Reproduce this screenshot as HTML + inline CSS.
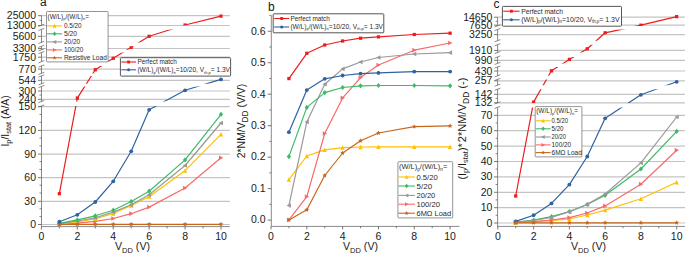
<!DOCTYPE html>
<html><head><meta charset="utf-8"><style>
html,body{margin:0;padding:0;background:#fff;}
body{width:685px;height:254px;overflow:hidden;}
svg{display:block;font-family:"Liberation Sans", sans-serif;}
</style></head><body>
<svg width="685" height="254" viewBox="0 0 685 254">
<rect width="685" height="254" fill="#fff"/>
<line x1="41.50" y1="15.70" x2="229.80" y2="15.70" stroke="#c4c4c4" stroke-width="1.2" />
<line x1="41.50" y1="25.50" x2="229.80" y2="25.50" stroke="#c4c4c4" stroke-width="1.2" />
<line x1="41.50" y1="36.30" x2="229.80" y2="36.30" stroke="#c4c4c4" stroke-width="1.2" />
<line x1="41.50" y1="48.50" x2="229.80" y2="48.50" stroke="#c4c4c4" stroke-width="1.2" />
<line x1="41.50" y1="57.20" x2="229.80" y2="57.20" stroke="#c4c4c4" stroke-width="1.2" />
<line x1="41.50" y1="69.10" x2="229.80" y2="69.10" stroke="#c4c4c4" stroke-width="1.2" />
<line x1="41.50" y1="80.30" x2="229.80" y2="80.30" stroke="#c4c4c4" stroke-width="1.2" />
<line x1="41.50" y1="91.00" x2="229.80" y2="91.00" stroke="#c4c4c4" stroke-width="1.2" />
<line x1="41.50" y1="99.30" x2="229.80" y2="99.30" stroke="#c4c4c4" stroke-width="1.2" />
<line x1="41.50" y1="106.60" x2="229.80" y2="106.60" stroke="#c4c4c4" stroke-width="1.2" />
<line x1="41.50" y1="130.40" x2="229.80" y2="130.40" stroke="#c4c4c4" stroke-width="1.2" />
<line x1="41.50" y1="154.10" x2="229.80" y2="154.10" stroke="#c4c4c4" stroke-width="1.2" />
<line x1="41.50" y1="177.70" x2="229.80" y2="177.70" stroke="#c4c4c4" stroke-width="1.2" />
<line x1="41.50" y1="201.30" x2="229.80" y2="201.30" stroke="#c4c4c4" stroke-width="1.2" />
<line x1="41.50" y1="224.50" x2="229.80" y2="224.50" stroke="#c4c4c4" stroke-width="1.2" />
<line x1="41.50" y1="15.40" x2="41.50" y2="25.30" stroke="#8a8a8a" stroke-width="1" />
<line x1="41.50" y1="29.50" x2="41.50" y2="42.40" stroke="#8a8a8a" stroke-width="1" />
<line x1="41.50" y1="46.30" x2="41.50" y2="49.80" stroke="#8a8a8a" stroke-width="1" />
<line x1="41.50" y1="52.60" x2="41.50" y2="61.70" stroke="#8a8a8a" stroke-width="1" />
<line x1="41.50" y1="66.00" x2="41.50" y2="73.40" stroke="#8a8a8a" stroke-width="1" />
<line x1="41.50" y1="76.00" x2="41.50" y2="83.80" stroke="#8a8a8a" stroke-width="1" />
<line x1="41.50" y1="86.50" x2="41.50" y2="101.50" stroke="#8a8a8a" stroke-width="1" />
<line x1="41.50" y1="106.00" x2="41.50" y2="227.00" stroke="#8a8a8a" stroke-width="1" />
<line x1="38.50" y1="26.40" x2="44.30" y2="24.20" stroke="#666" stroke-width="0.75" />
<line x1="38.50" y1="30.60" x2="44.30" y2="28.40" stroke="#666" stroke-width="0.75" />
<line x1="38.50" y1="43.50" x2="44.30" y2="41.30" stroke="#666" stroke-width="0.75" />
<line x1="38.50" y1="47.40" x2="44.30" y2="45.20" stroke="#666" stroke-width="0.75" />
<line x1="38.50" y1="50.90" x2="44.30" y2="48.70" stroke="#666" stroke-width="0.75" />
<line x1="38.50" y1="53.70" x2="44.30" y2="51.50" stroke="#666" stroke-width="0.75" />
<line x1="38.50" y1="62.80" x2="44.30" y2="60.60" stroke="#666" stroke-width="0.75" />
<line x1="38.50" y1="67.10" x2="44.30" y2="64.90" stroke="#666" stroke-width="0.75" />
<line x1="38.50" y1="74.50" x2="44.30" y2="72.30" stroke="#666" stroke-width="0.75" />
<line x1="38.50" y1="77.10" x2="44.30" y2="74.90" stroke="#666" stroke-width="0.75" />
<line x1="38.50" y1="84.90" x2="44.30" y2="82.70" stroke="#666" stroke-width="0.75" />
<line x1="38.50" y1="87.60" x2="44.30" y2="85.40" stroke="#666" stroke-width="0.75" />
<line x1="38.50" y1="102.60" x2="44.30" y2="100.40" stroke="#666" stroke-width="0.75" />
<line x1="38.50" y1="107.10" x2="44.30" y2="104.90" stroke="#666" stroke-width="0.75" />
<line x1="41.50" y1="226.60" x2="229.80" y2="226.60" stroke="#8a8a8a" stroke-width="1" />
<line x1="38.00" y1="15.70" x2="41.50" y2="15.70" stroke="#666" stroke-width="0.9" />
<text x="36.00" y="19.20" font-size="10.5" text-anchor="end" fill="#1a1a1a" >25000</text>
<line x1="38.00" y1="25.50" x2="41.50" y2="25.50" stroke="#666" stroke-width="0.9" />
<text x="36.00" y="29.00" font-size="10.5" text-anchor="end" fill="#1a1a1a" >13000</text>
<line x1="38.00" y1="36.30" x2="41.50" y2="36.30" stroke="#666" stroke-width="0.9" />
<text x="36.00" y="39.80" font-size="10.5" text-anchor="end" fill="#1a1a1a" >5600</text>
<line x1="38.00" y1="48.50" x2="41.50" y2="48.50" stroke="#666" stroke-width="0.9" />
<text x="36.00" y="52.00" font-size="10.5" text-anchor="end" fill="#1a1a1a" >3300</text>
<line x1="38.00" y1="57.20" x2="41.50" y2="57.20" stroke="#666" stroke-width="0.9" />
<text x="36.00" y="60.70" font-size="10.5" text-anchor="end" fill="#1a1a1a" >1750</text>
<line x1="38.00" y1="69.10" x2="41.50" y2="69.10" stroke="#666" stroke-width="0.9" />
<text x="36.00" y="72.60" font-size="10.5" text-anchor="end" fill="#1a1a1a" >770</text>
<line x1="38.00" y1="80.30" x2="41.50" y2="80.30" stroke="#666" stroke-width="0.9" />
<text x="36.00" y="83.80" font-size="10.5" text-anchor="end" fill="#1a1a1a" >544</text>
<line x1="38.00" y1="91.00" x2="41.50" y2="91.00" stroke="#666" stroke-width="0.9" />
<text x="36.00" y="94.50" font-size="10.5" text-anchor="end" fill="#1a1a1a" >300</text>
<line x1="38.00" y1="99.30" x2="41.50" y2="99.30" stroke="#666" stroke-width="0.9" />
<text x="36.00" y="102.80" font-size="10.5" text-anchor="end" fill="#1a1a1a" >240</text>
<line x1="38.00" y1="106.60" x2="41.50" y2="106.60" stroke="#666" stroke-width="0.9" />
<text x="36.00" y="110.10" font-size="10.5" text-anchor="end" fill="#1a1a1a" >150</text>
<line x1="38.00" y1="130.40" x2="41.50" y2="130.40" stroke="#666" stroke-width="0.9" />
<text x="36.00" y="133.90" font-size="10.5" text-anchor="end" fill="#1a1a1a" >120</text>
<line x1="38.00" y1="154.10" x2="41.50" y2="154.10" stroke="#666" stroke-width="0.9" />
<text x="36.00" y="157.60" font-size="10.5" text-anchor="end" fill="#1a1a1a" >90</text>
<line x1="38.00" y1="177.70" x2="41.50" y2="177.70" stroke="#666" stroke-width="0.9" />
<text x="36.00" y="181.20" font-size="10.5" text-anchor="end" fill="#1a1a1a" >60</text>
<line x1="38.00" y1="201.30" x2="41.50" y2="201.30" stroke="#666" stroke-width="0.9" />
<text x="36.00" y="204.80" font-size="10.5" text-anchor="end" fill="#1a1a1a" >30</text>
<line x1="38.00" y1="224.50" x2="41.50" y2="224.50" stroke="#666" stroke-width="0.9" />
<text x="36.00" y="228.00" font-size="10.5" text-anchor="end" fill="#1a1a1a" >0</text>
<line x1="39.50" y1="216.64" x2="41.50" y2="216.64" stroke="#666" stroke-width="0.8" />
<line x1="39.50" y1="208.78" x2="41.50" y2="208.78" stroke="#666" stroke-width="0.8" />
<line x1="39.50" y1="193.06" x2="41.50" y2="193.06" stroke="#666" stroke-width="0.8" />
<line x1="39.50" y1="185.20" x2="41.50" y2="185.20" stroke="#666" stroke-width="0.8" />
<line x1="39.50" y1="169.48" x2="41.50" y2="169.48" stroke="#666" stroke-width="0.8" />
<line x1="39.50" y1="161.62" x2="41.50" y2="161.62" stroke="#666" stroke-width="0.8" />
<line x1="39.50" y1="145.90" x2="41.50" y2="145.90" stroke="#666" stroke-width="0.8" />
<line x1="39.50" y1="138.04" x2="41.50" y2="138.04" stroke="#666" stroke-width="0.8" />
<line x1="39.50" y1="122.32" x2="41.50" y2="122.32" stroke="#666" stroke-width="0.8" />
<line x1="39.50" y1="114.46" x2="41.50" y2="114.46" stroke="#666" stroke-width="0.8" />
<line x1="39.50" y1="20.40" x2="41.50" y2="20.40" stroke="#666" stroke-width="0.8" />
<line x1="39.50" y1="95.00" x2="41.50" y2="95.00" stroke="#666" stroke-width="0.8" />
<line x1="41.40" y1="226.60" x2="41.40" y2="229.60" stroke="#666" stroke-width="0.9" />
<line x1="59.36" y1="226.60" x2="59.36" y2="228.40" stroke="#666" stroke-width="0.9" />
<line x1="77.32" y1="226.60" x2="77.32" y2="229.60" stroke="#666" stroke-width="0.9" />
<line x1="95.28" y1="226.60" x2="95.28" y2="228.40" stroke="#666" stroke-width="0.9" />
<line x1="113.24" y1="226.60" x2="113.24" y2="229.60" stroke="#666" stroke-width="0.9" />
<line x1="131.20" y1="226.60" x2="131.20" y2="228.40" stroke="#666" stroke-width="0.9" />
<line x1="149.16" y1="226.60" x2="149.16" y2="229.60" stroke="#666" stroke-width="0.9" />
<line x1="167.12" y1="226.60" x2="167.12" y2="228.40" stroke="#666" stroke-width="0.9" />
<line x1="185.08" y1="226.60" x2="185.08" y2="229.60" stroke="#666" stroke-width="0.9" />
<line x1="203.04" y1="226.60" x2="203.04" y2="228.40" stroke="#666" stroke-width="0.9" />
<line x1="221.00" y1="226.60" x2="221.00" y2="229.60" stroke="#666" stroke-width="0.9" />
<text x="41.40" y="239.80" font-size="10.5" text-anchor="middle" fill="#1a1a1a" >0</text>
<text x="77.32" y="239.80" font-size="10.5" text-anchor="middle" fill="#1a1a1a" >2</text>
<text x="113.24" y="239.80" font-size="10.5" text-anchor="middle" fill="#1a1a1a" >4</text>
<text x="149.16" y="239.80" font-size="10.5" text-anchor="middle" fill="#1a1a1a" >6</text>
<text x="185.08" y="239.80" font-size="10.5" text-anchor="middle" fill="#1a1a1a" >8</text>
<text x="221.00" y="239.80" font-size="10.5" text-anchor="middle" fill="#1a1a1a" >10</text>
<text x="115" y="250.3" font-size="10.6" fill="#1a1a1a">V<tspan font-size="7.5" dy="2.6">DD</tspan><tspan dy="-2.6"> (V)</tspan></text>
<text transform="translate(8.8,146.6) rotate(-90)" font-size="10.4" fill="#1a1a1a">I<tspan font-size="7.4" dy="2.3">p</tspan><tspan dy="-2.3">/I</tspan><tspan font-size="7.4" dy="2.3">stat</tspan><tspan dy="-2.3"> (A/A)</tspan></text>
<text x="39.90" y="6.00" font-size="12" text-anchor="start" fill="#1a1a1a" >a</text>
<path d="M59.36 224.30L77.32 223.20M77.32 223.20L95.28 221.30M95.28 221.30L113.24 218.50M113.24 218.50L131.20 213.70M131.20 213.70L149.16 207.10M149.16 207.10L185.08 188.00M185.08 188.00L221.00 157.80" stroke="#f8696b" stroke-width="1.2" fill="none" stroke-linejoin="round"/>
<polygon points="61.70,224.30 57.37,221.96 57.37,226.64" fill="#f8696b"/>
<polygon points="79.66,223.20 75.33,220.86 75.33,225.54" fill="#f8696b"/>
<polygon points="97.62,221.30 93.29,218.96 93.29,223.64" fill="#f8696b"/>
<polygon points="115.58,218.50 111.25,216.16 111.25,220.84" fill="#f8696b"/>
<polygon points="133.54,213.70 129.21,211.36 129.21,216.04" fill="#f8696b"/>
<polygon points="151.50,207.10 147.17,204.76 147.17,209.44" fill="#f8696b"/>
<polygon points="187.42,188.00 183.09,185.66 183.09,190.34" fill="#f8696b"/>
<polygon points="223.34,157.80 219.01,155.46 219.01,160.14" fill="#f8696b"/>
<path d="M59.36 223.90L77.32 222.00M77.32 222.00L95.28 218.80M95.28 218.80L113.24 213.50M113.24 213.50L131.20 205.50M131.20 205.50L149.16 196.70M149.16 196.70L185.08 170.60M185.08 170.60L221.00 134.30" stroke="#ffc000" stroke-width="1.2" fill="none" stroke-linejoin="round"/>
<polygon points="59.36,221.50 61.54,226.05 57.18,226.05" fill="#ffc000"/>
<polygon points="77.32,219.59 79.50,224.15 75.14,224.15" fill="#ffc000"/>
<polygon points="95.28,216.40 97.46,220.95 93.10,220.95" fill="#ffc000"/>
<polygon points="113.24,211.09 115.42,215.65 111.06,215.65" fill="#ffc000"/>
<polygon points="131.20,203.09 133.38,207.65 129.02,207.65" fill="#ffc000"/>
<polygon points="149.16,194.29 151.34,198.84 146.98,198.84" fill="#ffc000"/>
<polygon points="185.08,168.19 187.26,172.75 182.90,172.75" fill="#ffc000"/>
<polygon points="221.00,131.90 223.18,136.45 218.82,136.45" fill="#ffc000"/>
<path d="M59.36 223.60L77.32 221.00M77.32 221.00L95.28 217.80M95.28 217.80L113.24 212.10M113.24 212.10L131.20 204.80M131.20 204.80L149.16 194.80M149.16 194.80L185.08 165.50M185.08 165.50L221.00 123.00" stroke="#999999" stroke-width="1.2" fill="none" stroke-linejoin="round"/>
<polygon points="57.02,223.60 61.35,221.26 61.35,225.94" fill="#999999"/>
<polygon points="74.98,221.00 79.31,218.66 79.31,223.34" fill="#999999"/>
<polygon points="92.94,217.80 97.27,215.46 97.27,220.14" fill="#999999"/>
<polygon points="110.90,212.10 115.23,209.76 115.23,214.44" fill="#999999"/>
<polygon points="128.86,204.80 133.19,202.46 133.19,207.14" fill="#999999"/>
<polygon points="146.82,194.80 151.15,192.46 151.15,197.14" fill="#999999"/>
<polygon points="182.74,165.50 187.07,163.16 187.07,167.84" fill="#999999"/>
<polygon points="218.66,123.00 222.99,120.66 222.99,125.34" fill="#999999"/>
<path d="M59.36 223.30L77.32 219.90M77.32 219.90L95.28 215.80M95.28 215.80L113.24 210.20M113.24 210.20L131.20 201.50M131.20 201.50L149.16 191.20M149.16 191.20L185.08 159.90M185.08 159.90L221.00 114.30" stroke="#3dba68" stroke-width="1.2" fill="none" stroke-linejoin="round"/>
<polygon points="59.36,220.70 61.51,223.30 59.36,225.90 57.21,223.30" fill="#3dba68"/>
<polygon points="77.32,217.30 79.46,219.90 77.32,222.50 75.17,219.90" fill="#3dba68"/>
<polygon points="95.28,213.20 97.42,215.80 95.28,218.40 93.14,215.80" fill="#3dba68"/>
<polygon points="113.24,207.60 115.39,210.20 113.24,212.80 111.10,210.20" fill="#3dba68"/>
<polygon points="131.20,198.90 133.35,201.50 131.20,204.10 129.06,201.50" fill="#3dba68"/>
<polygon points="149.16,188.60 151.31,191.20 149.16,193.80 147.01,191.20" fill="#3dba68"/>
<polygon points="185.08,157.30 187.23,159.90 185.08,162.50 182.94,159.90" fill="#3dba68"/>
<polygon points="221.00,111.70 223.15,114.30 221.00,116.90 218.86,114.30" fill="#3dba68"/>
<path d="M59.36 224.30L77.32 224.30M77.32 224.30L95.28 224.30M95.28 224.30L113.24 224.30M113.24 224.30L131.20 224.30M131.20 224.30L149.16 224.30M149.16 224.30L185.08 224.30M185.08 224.30L221.00 224.30" stroke="#c8661c" stroke-width="1.2" fill="none" stroke-linejoin="round"/>
<polygon points="59.36,221.83 60.06,223.34 61.71,223.54 60.49,224.67 60.81,226.30 59.36,225.49 57.91,226.30 58.23,224.67 57.01,223.54 58.66,223.34" fill="#c8661c"/>
<polygon points="77.32,221.83 78.02,223.34 79.67,223.54 78.45,224.67 78.77,226.30 77.32,225.49 75.87,226.30 76.19,224.67 74.97,223.54 76.62,223.34" fill="#c8661c"/>
<polygon points="95.28,221.83 95.98,223.34 97.63,223.54 96.41,224.67 96.73,226.30 95.28,225.49 93.83,226.30 94.15,224.67 92.93,223.54 94.58,223.34" fill="#c8661c"/>
<polygon points="113.24,221.83 113.94,223.34 115.59,223.54 114.37,224.67 114.69,226.30 113.24,225.49 111.79,226.30 112.11,224.67 110.89,223.54 112.54,223.34" fill="#c8661c"/>
<polygon points="131.20,221.83 131.90,223.34 133.55,223.54 132.33,224.67 132.65,226.30 131.20,225.49 129.75,226.30 130.07,224.67 128.85,223.54 130.50,223.34" fill="#c8661c"/>
<polygon points="149.16,221.83 149.86,223.34 151.51,223.54 150.29,224.67 150.61,226.30 149.16,225.49 147.71,226.30 148.03,224.67 146.81,223.54 148.46,223.34" fill="#c8661c"/>
<polygon points="185.08,221.83 185.78,223.34 187.43,223.54 186.21,224.67 186.53,226.30 185.08,225.49 183.63,226.30 183.95,224.67 182.73,223.54 184.38,223.34" fill="#c8661c"/>
<polygon points="221.00,221.83 221.70,223.34 223.35,223.54 222.13,224.67 222.45,226.30 221.00,225.49 219.55,226.30 219.87,224.67 218.65,223.54 220.30,223.34" fill="#c8661c"/>
<clipPath id="ca"><rect x="42" y="0.00" width="190" height="25.30"/><rect x="42" y="29.50" width="190" height="12.90"/><rect x="42" y="46.30" width="190" height="3.50"/><rect x="42" y="52.60" width="190" height="9.10"/><rect x="42" y="66.00" width="190" height="7.40"/><rect x="42" y="76.00" width="190" height="7.80"/><rect x="42" y="86.50" width="190" height="15.00"/><rect x="42" y="106.00" width="190" height="148.00"/></clipPath>
<g clip-path="url(#ca)">
<path d="M59.36 221.70L77.32 214.80M77.32 214.80L95.28 202.00M95.28 202.00L113.24 181.30M113.24 181.30L131.20 151.30M131.20 151.30L149.16 109.80M149.16 109.80L185.08 90.30M185.08 90.30L221.00 79.40" stroke="#2f62a0" stroke-width="1.2" fill="none" stroke-linejoin="round"/>
<circle cx="59.36" cy="221.70" r="1.92" fill="#2f62a0"/>
<circle cx="77.32" cy="214.80" r="1.92" fill="#2f62a0"/>
<circle cx="95.28" cy="202.00" r="1.92" fill="#2f62a0"/>
<circle cx="113.24" cy="181.30" r="1.92" fill="#2f62a0"/>
<circle cx="131.20" cy="151.30" r="1.92" fill="#2f62a0"/>
<circle cx="149.16" cy="109.80" r="1.92" fill="#2f62a0"/>
<circle cx="185.08" cy="90.30" r="1.92" fill="#2f62a0"/>
<circle cx="221.00" cy="79.40" r="1.92" fill="#2f62a0"/>
<path d="M59.36 193.70L77.32 98.10M77.32 98.10L95.28 69.80M95.28 69.80L113.24 58.30M113.24 58.30L131.20 47.30M131.20 47.30L149.16 36.30M149.16 36.30L185.08 25.00M185.08 25.00L221.00 16.10" stroke="#ee1c1c" stroke-width="1.2" fill="none" stroke-linejoin="round"/>
<rect x="57.73" y="192.07" width="3.25" height="3.25" fill="#ee1c1c"/>
<rect x="75.69" y="96.47" width="3.25" height="3.25" fill="#ee1c1c"/>
<rect x="93.66" y="68.17" width="3.25" height="3.25" fill="#ee1c1c"/>
<rect x="111.62" y="56.67" width="3.25" height="3.25" fill="#ee1c1c"/>
<rect x="129.58" y="45.67" width="3.25" height="3.25" fill="#ee1c1c"/>
<rect x="147.53" y="34.67" width="3.25" height="3.25" fill="#ee1c1c"/>
<rect x="183.46" y="23.38" width="3.25" height="3.25" fill="#ee1c1c"/>
<rect x="219.38" y="14.48" width="3.25" height="3.25" fill="#ee1c1c"/>
</g>
<rect x="46.50" y="11.50" width="61.60" height="50.40" fill="#fff" stroke="#7a7a7a" stroke-width="0.8" rx="0.8"/>
<text x="47.50" y="18.50" font-size="6.4" fill="#2a2a2a" textLength="41.40" lengthAdjust="spacingAndGlyphs">(W/L)<tspan font-size="3.97" dy="1.4">p</tspan><tspan dy="-1.4">/(W/L)</tspan><tspan font-size="3.97" dy="1.4">n</tspan><tspan dy="-1.4">=</tspan></text>
<line x1="47.10" y1="25.90" x2="62.00" y2="25.90" stroke="#ffc000" stroke-width="1.1" />
<polygon points="54.55,23.86 56.40,27.71 52.70,27.71" fill="#ffc000"/>
<text x="63.90" y="28.20" font-size="6.4" fill="#2a2a2a" textLength="17.80" lengthAdjust="spacingAndGlyphs">0.5/20</text>
<line x1="47.10" y1="33.80" x2="62.00" y2="33.80" stroke="#3dba68" stroke-width="1.1" />
<polygon points="54.55,31.60 56.36,33.80 54.55,36.00 52.73,33.80" fill="#3dba68"/>
<text x="63.90" y="36.10" font-size="6.4" fill="#2a2a2a" textLength="13.20" lengthAdjust="spacingAndGlyphs">5/20</text>
<line x1="47.10" y1="41.90" x2="62.00" y2="41.90" stroke="#999999" stroke-width="1.1" />
<polygon points="52.57,41.90 56.23,39.92 56.23,43.88" fill="#999999"/>
<text x="63.90" y="44.20" font-size="6.4" fill="#2a2a2a" textLength="16.30" lengthAdjust="spacingAndGlyphs">20/20</text>
<line x1="47.10" y1="49.90" x2="62.00" y2="49.90" stroke="#f8696b" stroke-width="1.1" />
<polygon points="56.53,49.90 52.87,47.92 52.87,51.88" fill="#f8696b"/>
<text x="63.90" y="52.20" font-size="6.4" fill="#2a2a2a" textLength="19.50" lengthAdjust="spacingAndGlyphs">100/20</text>
<line x1="47.10" y1="57.80" x2="62.00" y2="57.80" stroke="#c8661c" stroke-width="1.1" />
<polygon points="54.55,55.71 55.14,56.99 56.54,57.15 55.50,58.11 55.78,59.49 54.55,58.80 53.32,59.49 53.60,58.11 52.56,57.15 53.96,56.99" fill="#c8661c"/>
<text x="63.90" y="60.10" font-size="6.4" fill="#2a2a2a" textLength="42.90" lengthAdjust="spacingAndGlyphs">Resistive Load</text>
<rect x="120.40" y="57.70" width="110.20" height="18.40" fill="#fff" stroke="#555" stroke-width="1.0" rx="0.8"/>
<line x1="121.30" y1="62.00" x2="136.00" y2="62.00" stroke="#ee1c1c" stroke-width="1.1" />
<rect x="127.21" y="60.56" width="2.88" height="2.88" fill="#ee1c1c"/>
<line x1="121.30" y1="69.80" x2="136.00" y2="69.80" stroke="#2f62a0" stroke-width="1.1" />
<circle cx="128.65" cy="69.80" r="1.55" fill="#2f62a0"/>
<text x="137.40" y="64.10" font-size="6.9" fill="#2a2a2a" textLength="39.50" lengthAdjust="spacingAndGlyphs">Perfect match</text>
<text x="137.40" y="72.20" font-size="6.9" fill="#2a2a2a" textLength="92.60" lengthAdjust="spacingAndGlyphs">(W/L)<tspan font-size="4.28" dy="1.4">p</tspan><tspan dy="-1.4">/(W/L)</tspan><tspan font-size="4.28" dy="1.4">n</tspan><tspan dy="-1.4">=10/20, V</tspan><tspan font-size="4.28" dy="1.4">th,p</tspan><tspan dy="-1.4">= 1.3V</tspan></text>
<line x1="271.30" y1="15.40" x2="271.30" y2="226.90" stroke="#8a8a8a" stroke-width="1" />
<line x1="271.30" y1="226.40" x2="459.50" y2="226.40" stroke="#8a8a8a" stroke-width="1" />
<line x1="269.30" y1="15.40" x2="271.30" y2="15.40" stroke="#666" stroke-width="0.8" />
<line x1="267.70" y1="220.10" x2="271.30" y2="220.10" stroke="#666" stroke-width="0.9" />
<text x="265.50" y="223.40" font-size="10.5" text-anchor="end" fill="#1a1a1a" >0.0</text>
<line x1="267.70" y1="188.63" x2="271.30" y2="188.63" stroke="#666" stroke-width="0.9" />
<text x="265.50" y="191.93" font-size="10.5" text-anchor="end" fill="#1a1a1a" >0.1</text>
<line x1="267.70" y1="157.16" x2="271.30" y2="157.16" stroke="#666" stroke-width="0.9" />
<text x="265.50" y="160.46" font-size="10.5" text-anchor="end" fill="#1a1a1a" >0.2</text>
<line x1="267.70" y1="125.69" x2="271.30" y2="125.69" stroke="#666" stroke-width="0.9" />
<text x="265.50" y="128.99" font-size="10.5" text-anchor="end" fill="#1a1a1a" >0.3</text>
<line x1="267.70" y1="94.22" x2="271.30" y2="94.22" stroke="#666" stroke-width="0.9" />
<text x="265.50" y="97.52" font-size="10.5" text-anchor="end" fill="#1a1a1a" >0.4</text>
<line x1="267.70" y1="62.75" x2="271.30" y2="62.75" stroke="#666" stroke-width="0.9" />
<text x="265.50" y="66.05" font-size="10.5" text-anchor="end" fill="#1a1a1a" >0.5</text>
<line x1="267.70" y1="31.28" x2="271.30" y2="31.28" stroke="#666" stroke-width="0.9" />
<text x="265.50" y="34.58" font-size="10.5" text-anchor="end" fill="#1a1a1a" >0.6</text>
<line x1="269.30" y1="204.37" x2="271.30" y2="204.37" stroke="#666" stroke-width="0.8" />
<line x1="269.30" y1="172.89" x2="271.30" y2="172.89" stroke="#666" stroke-width="0.8" />
<line x1="269.30" y1="141.43" x2="271.30" y2="141.43" stroke="#666" stroke-width="0.8" />
<line x1="269.30" y1="109.95" x2="271.30" y2="109.95" stroke="#666" stroke-width="0.8" />
<line x1="269.30" y1="78.48" x2="271.30" y2="78.48" stroke="#666" stroke-width="0.8" />
<line x1="269.30" y1="47.01" x2="271.30" y2="47.01" stroke="#666" stroke-width="0.8" />
<line x1="271.00" y1="226.40" x2="271.00" y2="229.40" stroke="#666" stroke-width="0.9" />
<line x1="288.91" y1="226.40" x2="288.91" y2="228.20" stroke="#666" stroke-width="0.9" />
<line x1="306.82" y1="226.40" x2="306.82" y2="229.40" stroke="#666" stroke-width="0.9" />
<line x1="324.73" y1="226.40" x2="324.73" y2="228.20" stroke="#666" stroke-width="0.9" />
<line x1="342.64" y1="226.40" x2="342.64" y2="229.40" stroke="#666" stroke-width="0.9" />
<line x1="360.55" y1="226.40" x2="360.55" y2="228.20" stroke="#666" stroke-width="0.9" />
<line x1="378.46" y1="226.40" x2="378.46" y2="229.40" stroke="#666" stroke-width="0.9" />
<line x1="396.37" y1="226.40" x2="396.37" y2="228.20" stroke="#666" stroke-width="0.9" />
<line x1="414.28" y1="226.40" x2="414.28" y2="229.40" stroke="#666" stroke-width="0.9" />
<line x1="432.19" y1="226.40" x2="432.19" y2="228.20" stroke="#666" stroke-width="0.9" />
<line x1="450.10" y1="226.40" x2="450.10" y2="229.40" stroke="#666" stroke-width="0.9" />
<text x="271.00" y="239.80" font-size="10.5" text-anchor="middle" fill="#1a1a1a" >0</text>
<text x="306.82" y="239.80" font-size="10.5" text-anchor="middle" fill="#1a1a1a" >2</text>
<text x="342.64" y="239.80" font-size="10.5" text-anchor="middle" fill="#1a1a1a" >4</text>
<text x="378.46" y="239.80" font-size="10.5" text-anchor="middle" fill="#1a1a1a" >6</text>
<text x="414.28" y="239.80" font-size="10.5" text-anchor="middle" fill="#1a1a1a" >8</text>
<text x="450.10" y="239.80" font-size="10.5" text-anchor="middle" fill="#1a1a1a" >10</text>
<text x="343" y="250.3" font-size="10.6" fill="#1a1a1a">V<tspan font-size="7.5" dy="2.6">DD</tspan><tspan dy="-2.6"> (V)</tspan></text>
<text transform="translate(244.6,158.2) rotate(-90)" font-size="10.4" fill="#1a1a1a">2*NM/V<tspan font-size="8.3" dy="3.0">DD</tspan><tspan dy="-3.0"> (V/V)</tspan></text>
<text x="268.00" y="11.20" font-size="12" text-anchor="start" fill="#1a1a1a" >b</text>
<path d="M288.91 179.70L306.82 156.00M306.82 156.00L324.73 149.90M324.73 149.90L342.64 147.70M342.64 147.70L360.55 147.00M360.55 147.00L378.46 146.80M378.46 146.80L414.28 146.80M414.28 146.80L450.10 146.80" stroke="#ffc000" stroke-width="1.2" fill="none" stroke-linejoin="round"/>
<polygon points="288.91,177.29 291.09,181.84 286.73,181.84" fill="#ffc000"/>
<polygon points="306.82,153.59 309.00,158.15 304.64,158.15" fill="#ffc000"/>
<polygon points="324.73,147.50 326.91,152.05 322.55,152.05" fill="#ffc000"/>
<polygon points="342.64,145.29 344.82,149.84 340.46,149.84" fill="#ffc000"/>
<polygon points="360.55,144.59 362.73,149.15 358.37,149.15" fill="#ffc000"/>
<polygon points="378.46,144.40 380.64,148.95 376.28,148.95" fill="#ffc000"/>
<polygon points="414.28,144.40 416.46,148.95 412.10,148.95" fill="#ffc000"/>
<polygon points="450.10,144.40 452.28,148.95 447.92,148.95" fill="#ffc000"/>
<path d="M288.91 219.90L306.82 196.70M306.82 196.70L324.73 133.50M324.73 133.50L342.64 97.90M342.64 97.90L360.55 77.60M360.55 77.60L378.46 65.00M378.46 65.00L414.28 50.20M414.28 50.20L450.10 43.00" stroke="#f8696b" stroke-width="1.2" fill="none" stroke-linejoin="round"/>
<polygon points="291.25,219.90 286.92,217.56 286.92,222.24" fill="#f8696b"/>
<polygon points="309.16,196.70 304.83,194.36 304.83,199.04" fill="#f8696b"/>
<polygon points="327.07,133.50 322.74,131.16 322.74,135.84" fill="#f8696b"/>
<polygon points="344.98,97.90 340.65,95.56 340.65,100.24" fill="#f8696b"/>
<polygon points="362.89,77.60 358.56,75.26 358.56,79.94" fill="#f8696b"/>
<polygon points="380.80,65.00 376.47,62.66 376.47,67.34" fill="#f8696b"/>
<polygon points="416.62,50.20 412.29,47.86 412.29,52.54" fill="#f8696b"/>
<polygon points="452.44,43.00 448.11,40.66 448.11,45.34" fill="#f8696b"/>
<path d="M288.91 205.60L306.82 121.90M306.82 121.90L324.73 84.20M324.73 84.20L342.64 68.90M342.64 68.90L360.55 62.00M360.55 62.00L378.46 57.50M378.46 57.50L414.28 54.00M414.28 54.00L450.10 52.70" stroke="#999999" stroke-width="1.2" fill="none" stroke-linejoin="round"/>
<polygon points="286.57,205.60 290.90,203.26 290.90,207.94" fill="#999999"/>
<polygon points="304.48,121.90 308.81,119.56 308.81,124.24" fill="#999999"/>
<polygon points="322.39,84.20 326.72,81.86 326.72,86.54" fill="#999999"/>
<polygon points="340.30,68.90 344.63,66.56 344.63,71.24" fill="#999999"/>
<polygon points="358.21,62.00 362.54,59.66 362.54,64.34" fill="#999999"/>
<polygon points="376.12,57.50 380.45,55.16 380.45,59.84" fill="#999999"/>
<polygon points="411.94,54.00 416.27,51.66 416.27,56.34" fill="#999999"/>
<polygon points="447.76,52.70 452.09,50.36 452.09,55.04" fill="#999999"/>
<path d="M288.91 156.60L306.82 107.40M306.82 107.40L324.73 92.60M324.73 92.60L342.64 87.50M342.64 87.50L360.55 85.80M360.55 85.80L378.46 85.50M378.46 85.50L414.28 85.50M414.28 85.50L450.10 85.80" stroke="#3dba68" stroke-width="1.2" fill="none" stroke-linejoin="round"/>
<polygon points="288.91,154.00 291.06,156.60 288.91,159.20 286.77,156.60" fill="#3dba68"/>
<polygon points="306.82,104.80 308.96,107.40 306.82,110.00 304.68,107.40" fill="#3dba68"/>
<polygon points="324.73,90.00 326.88,92.60 324.73,95.20 322.59,92.60" fill="#3dba68"/>
<polygon points="342.64,84.90 344.78,87.50 342.64,90.10 340.50,87.50" fill="#3dba68"/>
<polygon points="360.55,83.20 362.69,85.80 360.55,88.40 358.41,85.80" fill="#3dba68"/>
<polygon points="378.46,82.90 380.61,85.50 378.46,88.10 376.32,85.50" fill="#3dba68"/>
<polygon points="414.28,82.90 416.42,85.50 414.28,88.10 412.13,85.50" fill="#3dba68"/>
<polygon points="450.10,83.20 452.25,85.80 450.10,88.40 447.96,85.80" fill="#3dba68"/>
<path d="M288.91 219.90L306.82 209.80M306.82 209.80L324.73 175.50M324.73 175.50L342.64 153.00M342.64 153.00L360.55 140.80M360.55 140.80L378.46 133.00M378.46 133.00L414.28 126.60M414.28 126.60L450.10 125.90" stroke="#c8661c" stroke-width="1.2" fill="none" stroke-linejoin="round"/>
<polygon points="288.91,217.43 289.61,218.94 291.26,219.14 290.04,220.27 290.36,221.90 288.91,221.09 287.46,221.90 287.78,220.27 286.56,219.14 288.21,218.94" fill="#c8661c"/>
<polygon points="306.82,207.33 307.52,208.84 309.17,209.04 307.95,210.17 308.27,211.80 306.82,210.99 305.37,211.80 305.69,210.17 304.47,209.04 306.12,208.84" fill="#c8661c"/>
<polygon points="324.73,173.03 325.43,174.54 327.08,174.74 325.86,175.87 326.18,177.50 324.73,176.69 323.28,177.50 323.60,175.87 322.38,174.74 324.03,174.54" fill="#c8661c"/>
<polygon points="342.64,150.53 343.34,152.04 344.99,152.24 343.77,153.37 344.09,155.00 342.64,154.19 341.19,155.00 341.51,153.37 340.29,152.24 341.94,152.04" fill="#c8661c"/>
<polygon points="360.55,138.33 361.25,139.84 362.90,140.04 361.68,141.17 362.00,142.80 360.55,141.99 359.10,142.80 359.42,141.17 358.20,140.04 359.85,139.84" fill="#c8661c"/>
<polygon points="378.46,130.53 379.16,132.04 380.81,132.24 379.59,133.37 379.91,135.00 378.46,134.19 377.01,135.00 377.33,133.37 376.11,132.24 377.76,132.04" fill="#c8661c"/>
<polygon points="414.28,124.13 414.98,125.64 416.63,125.84 415.41,126.97 415.73,128.60 414.28,127.79 412.83,128.60 413.15,126.97 411.93,125.84 413.58,125.64" fill="#c8661c"/>
<polygon points="450.10,123.43 450.80,124.94 452.45,125.14 451.23,126.27 451.55,127.90 450.10,127.09 448.65,127.90 448.97,126.27 447.75,125.14 449.40,124.94" fill="#c8661c"/>
<path d="M288.91 132.20L306.82 90.10M306.82 90.10L324.73 78.80M324.73 78.80L342.64 75.50M342.64 75.50L360.55 73.70M360.55 73.70L378.46 72.90M378.46 72.90L414.28 71.60M414.28 71.60L450.10 71.60" stroke="#2f62a0" stroke-width="1.2" fill="none" stroke-linejoin="round"/>
<circle cx="288.91" cy="132.20" r="1.92" fill="#2f62a0"/>
<circle cx="306.82" cy="90.10" r="1.92" fill="#2f62a0"/>
<circle cx="324.73" cy="78.80" r="1.92" fill="#2f62a0"/>
<circle cx="342.64" cy="75.50" r="1.92" fill="#2f62a0"/>
<circle cx="360.55" cy="73.70" r="1.92" fill="#2f62a0"/>
<circle cx="378.46" cy="72.90" r="1.92" fill="#2f62a0"/>
<circle cx="414.28" cy="71.60" r="1.92" fill="#2f62a0"/>
<circle cx="450.10" cy="71.60" r="1.92" fill="#2f62a0"/>
<path d="M288.91 78.60L306.82 53.30M306.82 53.30L324.73 45.00M324.73 45.00L342.64 41.00M342.64 41.00L360.55 38.20M360.55 38.20L378.46 36.90M378.46 36.90L414.28 34.50M414.28 34.50L450.10 33.20" stroke="#ee1c1c" stroke-width="1.2" fill="none" stroke-linejoin="round"/>
<rect x="287.29" y="76.97" width="3.25" height="3.25" fill="#ee1c1c"/>
<rect x="305.19" y="51.67" width="3.25" height="3.25" fill="#ee1c1c"/>
<rect x="323.11" y="43.38" width="3.25" height="3.25" fill="#ee1c1c"/>
<rect x="341.01" y="39.38" width="3.25" height="3.25" fill="#ee1c1c"/>
<rect x="358.93" y="36.58" width="3.25" height="3.25" fill="#ee1c1c"/>
<rect x="376.84" y="35.27" width="3.25" height="3.25" fill="#ee1c1c"/>
<rect x="412.65" y="32.88" width="3.25" height="3.25" fill="#ee1c1c"/>
<rect x="448.48" y="31.58" width="3.25" height="3.25" fill="#ee1c1c"/>
<rect x="273.20" y="13.80" width="110.60" height="19.00" fill="#fff" stroke="#555" stroke-width="1.0" rx="0.8"/>
<line x1="274.20" y1="18.50" x2="289.20" y2="18.50" stroke="#ee1c1c" stroke-width="1.1" />
<rect x="280.26" y="17.06" width="2.88" height="2.88" fill="#ee1c1c"/>
<line x1="274.20" y1="27.00" x2="289.20" y2="27.00" stroke="#2f62a0" stroke-width="1.1" />
<circle cx="281.70" cy="27.00" r="1.55" fill="#2f62a0"/>
<text x="290.40" y="20.50" font-size="6.9" fill="#2a2a2a" textLength="39.50" lengthAdjust="spacingAndGlyphs">Perfect match</text>
<text x="290.40" y="28.70" font-size="6.9" fill="#2a2a2a" textLength="92.60" lengthAdjust="spacingAndGlyphs">(W/L)<tspan font-size="4.28" dy="1.4">p</tspan><tspan dy="-1.4">/(W/L)</tspan><tspan font-size="4.28" dy="1.4">n</tspan><tspan dy="-1.4">=10/20, V</tspan><tspan font-size="4.28" dy="1.4">th,p</tspan><tspan dy="-1.4">= 1.3V</tspan></text>
<rect x="397.90" y="161.70" width="54.80" height="56.20" fill="#fff" stroke="#7a7a7a" stroke-width="0.8" rx="0.8"/>
<text x="398.90" y="169.40" font-size="7.5" fill="#2a2a2a" textLength="48.40" lengthAdjust="spacingAndGlyphs">(W/L)<tspan font-size="4.65" dy="1.4">p</tspan><tspan dy="-1.4">/(W/L)</tspan><tspan font-size="4.65" dy="1.4">n</tspan><tspan dy="-1.4">=</tspan></text>
<line x1="398.40" y1="177.00" x2="414.90" y2="177.00" stroke="#ffc000" stroke-width="1.1" />
<polygon points="406.65,174.97 408.50,178.81 404.80,178.81" fill="#ffc000"/>
<text x="416.50" y="179.70" font-size="7.5" fill="#2a2a2a" textLength="21.20" lengthAdjust="spacingAndGlyphs">0.5/20</text>
<line x1="398.40" y1="186.00" x2="414.90" y2="186.00" stroke="#3dba68" stroke-width="1.1" />
<polygon points="406.65,183.80 408.46,186.00 406.65,188.20 404.83,186.00" fill="#3dba68"/>
<text x="416.50" y="188.70" font-size="7.5" fill="#2a2a2a" textLength="15.60" lengthAdjust="spacingAndGlyphs">5/20</text>
<line x1="398.40" y1="195.40" x2="414.90" y2="195.40" stroke="#999999" stroke-width="1.1" />
<polygon points="404.67,195.40 408.33,193.42 408.33,197.38" fill="#999999"/>
<text x="416.50" y="198.10" font-size="7.5" fill="#2a2a2a" textLength="18.80" lengthAdjust="spacingAndGlyphs">20/20</text>
<line x1="398.40" y1="204.20" x2="414.90" y2="204.20" stroke="#f8696b" stroke-width="1.1" />
<polygon points="408.63,204.20 404.97,202.22 404.97,206.18" fill="#f8696b"/>
<text x="416.50" y="206.90" font-size="7.5" fill="#2a2a2a" textLength="23.60" lengthAdjust="spacingAndGlyphs">100/20</text>
<line x1="398.40" y1="213.20" x2="414.90" y2="213.20" stroke="#c8661c" stroke-width="1.1" />
<polygon points="406.65,211.11 407.24,212.39 408.64,212.55 407.60,213.51 407.88,214.89 406.65,214.20 405.42,214.89 405.70,213.51 404.66,212.55 406.06,212.39" fill="#c8661c"/>
<text x="416.50" y="215.90" font-size="7.5" fill="#2a2a2a" textLength="34.60" lengthAdjust="spacingAndGlyphs">6M&#937; Load</text>
<line x1="497.60" y1="17.20" x2="685.00" y2="17.20" stroke="#c4c4c4" stroke-width="1.2" />
<line x1="497.60" y1="25.20" x2="685.00" y2="25.20" stroke="#c4c4c4" stroke-width="1.2" />
<line x1="497.60" y1="34.60" x2="685.00" y2="34.60" stroke="#c4c4c4" stroke-width="1.2" />
<line x1="497.60" y1="50.40" x2="685.00" y2="50.40" stroke="#c4c4c4" stroke-width="1.2" />
<line x1="497.60" y1="60.30" x2="685.00" y2="60.30" stroke="#c4c4c4" stroke-width="1.2" />
<line x1="497.60" y1="71.00" x2="685.00" y2="71.00" stroke="#c4c4c4" stroke-width="1.2" />
<line x1="497.60" y1="80.80" x2="685.00" y2="80.80" stroke="#c4c4c4" stroke-width="1.2" />
<line x1="497.60" y1="94.30" x2="685.00" y2="94.30" stroke="#c4c4c4" stroke-width="1.2" />
<line x1="497.60" y1="102.80" x2="685.00" y2="102.80" stroke="#c4c4c4" stroke-width="1.2" />
<line x1="497.60" y1="115.30" x2="685.00" y2="115.30" stroke="#c4c4c4" stroke-width="1.2" />
<line x1="497.60" y1="130.70" x2="685.00" y2="130.70" stroke="#c4c4c4" stroke-width="1.2" />
<line x1="497.60" y1="146.10" x2="685.00" y2="146.10" stroke="#c4c4c4" stroke-width="1.2" />
<line x1="497.60" y1="161.50" x2="685.00" y2="161.50" stroke="#c4c4c4" stroke-width="1.2" />
<line x1="497.60" y1="176.90" x2="685.00" y2="176.90" stroke="#c4c4c4" stroke-width="1.2" />
<line x1="497.60" y1="192.30" x2="685.00" y2="192.30" stroke="#c4c4c4" stroke-width="1.2" />
<line x1="497.60" y1="207.70" x2="685.00" y2="207.70" stroke="#c4c4c4" stroke-width="1.2" />
<line x1="497.60" y1="223.00" x2="685.00" y2="223.00" stroke="#c4c4c4" stroke-width="1.2" />
<line x1="497.60" y1="17.20" x2="497.60" y2="25.90" stroke="#8a8a8a" stroke-width="1" />
<line x1="497.60" y1="29.50" x2="497.60" y2="40.70" stroke="#8a8a8a" stroke-width="1" />
<line x1="497.60" y1="44.70" x2="497.60" y2="52.50" stroke="#8a8a8a" stroke-width="1" />
<line x1="497.60" y1="57.00" x2="497.60" y2="63.40" stroke="#8a8a8a" stroke-width="1" />
<line x1="497.60" y1="67.00" x2="497.60" y2="75.80" stroke="#8a8a8a" stroke-width="1" />
<line x1="497.60" y1="79.40" x2="497.60" y2="85.20" stroke="#8a8a8a" stroke-width="1" />
<line x1="497.60" y1="89.20" x2="497.60" y2="102.90" stroke="#8a8a8a" stroke-width="1" />
<line x1="497.60" y1="107.40" x2="497.60" y2="226.90" stroke="#8a8a8a" stroke-width="1" />
<line x1="494.60" y1="27.00" x2="500.40" y2="24.80" stroke="#666" stroke-width="0.75" />
<line x1="494.60" y1="30.60" x2="500.40" y2="28.40" stroke="#666" stroke-width="0.75" />
<line x1="494.60" y1="41.80" x2="500.40" y2="39.60" stroke="#666" stroke-width="0.75" />
<line x1="494.60" y1="45.80" x2="500.40" y2="43.60" stroke="#666" stroke-width="0.75" />
<line x1="494.60" y1="53.60" x2="500.40" y2="51.40" stroke="#666" stroke-width="0.75" />
<line x1="494.60" y1="58.10" x2="500.40" y2="55.90" stroke="#666" stroke-width="0.75" />
<line x1="494.60" y1="64.50" x2="500.40" y2="62.30" stroke="#666" stroke-width="0.75" />
<line x1="494.60" y1="68.10" x2="500.40" y2="65.90" stroke="#666" stroke-width="0.75" />
<line x1="494.60" y1="76.90" x2="500.40" y2="74.70" stroke="#666" stroke-width="0.75" />
<line x1="494.60" y1="80.50" x2="500.40" y2="78.30" stroke="#666" stroke-width="0.75" />
<line x1="494.60" y1="86.30" x2="500.40" y2="84.10" stroke="#666" stroke-width="0.75" />
<line x1="494.60" y1="90.30" x2="500.40" y2="88.10" stroke="#666" stroke-width="0.75" />
<line x1="494.60" y1="104.00" x2="500.40" y2="101.80" stroke="#666" stroke-width="0.75" />
<line x1="494.60" y1="108.50" x2="500.40" y2="106.30" stroke="#666" stroke-width="0.75" />
<line x1="497.60" y1="226.40" x2="685.00" y2="226.40" stroke="#8a8a8a" stroke-width="1" />
<line x1="494.10" y1="17.20" x2="497.60" y2="17.20" stroke="#666" stroke-width="0.9" />
<text x="492.40" y="20.70" font-size="10.5" text-anchor="end" fill="#1a1a1a" >14650</text>
<line x1="494.10" y1="25.20" x2="497.60" y2="25.20" stroke="#666" stroke-width="0.9" />
<text x="492.40" y="28.70" font-size="10.5" text-anchor="end" fill="#1a1a1a" >7650</text>
<line x1="494.10" y1="34.60" x2="497.60" y2="34.60" stroke="#666" stroke-width="0.9" />
<text x="492.40" y="38.10" font-size="10.5" text-anchor="end" fill="#1a1a1a" >3250</text>
<line x1="494.10" y1="50.40" x2="497.60" y2="50.40" stroke="#666" stroke-width="0.9" />
<text x="492.40" y="53.90" font-size="10.5" text-anchor="end" fill="#1a1a1a" >1910</text>
<line x1="494.10" y1="60.30" x2="497.60" y2="60.30" stroke="#666" stroke-width="0.9" />
<text x="492.40" y="63.80" font-size="10.5" text-anchor="end" fill="#1a1a1a" >990</text>
<line x1="494.10" y1="71.00" x2="497.60" y2="71.00" stroke="#666" stroke-width="0.9" />
<text x="492.40" y="74.50" font-size="10.5" text-anchor="end" fill="#1a1a1a" >430</text>
<line x1="494.10" y1="80.80" x2="497.60" y2="80.80" stroke="#666" stroke-width="0.9" />
<text x="492.40" y="84.30" font-size="10.5" text-anchor="end" fill="#1a1a1a" >257</text>
<line x1="494.10" y1="94.30" x2="497.60" y2="94.30" stroke="#666" stroke-width="0.9" />
<text x="492.40" y="97.80" font-size="10.5" text-anchor="end" fill="#1a1a1a" >142</text>
<line x1="494.10" y1="102.80" x2="497.60" y2="102.80" stroke="#666" stroke-width="0.9" />
<text x="492.40" y="106.30" font-size="10.5" text-anchor="end" fill="#1a1a1a" >132</text>
<line x1="494.10" y1="115.30" x2="497.60" y2="115.30" stroke="#666" stroke-width="0.9" />
<text x="492.40" y="118.80" font-size="10.5" text-anchor="end" fill="#1a1a1a" >70</text>
<line x1="494.10" y1="130.70" x2="497.60" y2="130.70" stroke="#666" stroke-width="0.9" />
<text x="492.40" y="134.20" font-size="10.5" text-anchor="end" fill="#1a1a1a" >60</text>
<line x1="494.10" y1="146.10" x2="497.60" y2="146.10" stroke="#666" stroke-width="0.9" />
<text x="492.40" y="149.60" font-size="10.5" text-anchor="end" fill="#1a1a1a" >50</text>
<line x1="494.10" y1="161.50" x2="497.60" y2="161.50" stroke="#666" stroke-width="0.9" />
<text x="492.40" y="165.00" font-size="10.5" text-anchor="end" fill="#1a1a1a" >40</text>
<line x1="494.10" y1="176.90" x2="497.60" y2="176.90" stroke="#666" stroke-width="0.9" />
<text x="492.40" y="180.40" font-size="10.5" text-anchor="end" fill="#1a1a1a" >30</text>
<line x1="494.10" y1="192.30" x2="497.60" y2="192.30" stroke="#666" stroke-width="0.9" />
<text x="492.40" y="195.80" font-size="10.5" text-anchor="end" fill="#1a1a1a" >20</text>
<line x1="494.10" y1="207.70" x2="497.60" y2="207.70" stroke="#666" stroke-width="0.9" />
<text x="492.40" y="211.20" font-size="10.5" text-anchor="end" fill="#1a1a1a" >10</text>
<line x1="494.10" y1="223.00" x2="497.60" y2="223.00" stroke="#666" stroke-width="0.9" />
<text x="492.40" y="226.50" font-size="10.5" text-anchor="end" fill="#1a1a1a" >0</text>
<line x1="495.60" y1="215.30" x2="497.60" y2="215.30" stroke="#666" stroke-width="0.8" />
<line x1="495.60" y1="199.90" x2="497.60" y2="199.90" stroke="#666" stroke-width="0.8" />
<line x1="495.60" y1="184.50" x2="497.60" y2="184.50" stroke="#666" stroke-width="0.8" />
<line x1="495.60" y1="169.10" x2="497.60" y2="169.10" stroke="#666" stroke-width="0.8" />
<line x1="495.60" y1="153.70" x2="497.60" y2="153.70" stroke="#666" stroke-width="0.8" />
<line x1="495.60" y1="138.30" x2="497.60" y2="138.30" stroke="#666" stroke-width="0.8" />
<line x1="495.60" y1="122.90" x2="497.60" y2="122.90" stroke="#666" stroke-width="0.8" />
<line x1="495.60" y1="21.30" x2="497.60" y2="21.30" stroke="#666" stroke-width="0.8" />
<line x1="495.60" y1="98.40" x2="497.60" y2="98.40" stroke="#666" stroke-width="0.8" />
<line x1="497.80" y1="226.40" x2="497.80" y2="229.40" stroke="#666" stroke-width="0.9" />
<line x1="515.69" y1="226.40" x2="515.69" y2="228.20" stroke="#666" stroke-width="0.9" />
<line x1="533.58" y1="226.40" x2="533.58" y2="229.40" stroke="#666" stroke-width="0.9" />
<line x1="551.47" y1="226.40" x2="551.47" y2="228.20" stroke="#666" stroke-width="0.9" />
<line x1="569.36" y1="226.40" x2="569.36" y2="229.40" stroke="#666" stroke-width="0.9" />
<line x1="587.25" y1="226.40" x2="587.25" y2="228.20" stroke="#666" stroke-width="0.9" />
<line x1="605.14" y1="226.40" x2="605.14" y2="229.40" stroke="#666" stroke-width="0.9" />
<line x1="623.03" y1="226.40" x2="623.03" y2="228.20" stroke="#666" stroke-width="0.9" />
<line x1="640.92" y1="226.40" x2="640.92" y2="229.40" stroke="#666" stroke-width="0.9" />
<line x1="658.81" y1="226.40" x2="658.81" y2="228.20" stroke="#666" stroke-width="0.9" />
<line x1="676.70" y1="226.40" x2="676.70" y2="229.40" stroke="#666" stroke-width="0.9" />
<text x="497.80" y="239.80" font-size="10.5" text-anchor="middle" fill="#1a1a1a" >0</text>
<text x="533.58" y="239.80" font-size="10.5" text-anchor="middle" fill="#1a1a1a" >2</text>
<text x="569.36" y="239.80" font-size="10.5" text-anchor="middle" fill="#1a1a1a" >4</text>
<text x="605.14" y="239.80" font-size="10.5" text-anchor="middle" fill="#1a1a1a" >6</text>
<text x="640.92" y="239.80" font-size="10.5" text-anchor="middle" fill="#1a1a1a" >8</text>
<text x="676.70" y="239.80" font-size="10.5" text-anchor="middle" fill="#1a1a1a" >10</text>
<text x="571" y="250.3" font-size="10.6" fill="#1a1a1a">V<tspan font-size="7.5" dy="2.6">DD</tspan><tspan dy="-2.6"> (V)</tspan></text>
<text transform="translate(465.6,179.6) rotate(-90)" font-size="10.7" fill="#1a1a1a" textLength="102" lengthAdjust="spacingAndGlyphs">(I<tspan font-size="7.4" dy="2.3">p</tspan><tspan dy="-2.3">/I</tspan><tspan font-size="7.4" dy="2.3">stat</tspan><tspan dy="-2.3">)*</tspan><tspan dx="1.2" font-size="11.1">2*NM/V</tspan><tspan font-size="8.4" dy="3.0">DD</tspan><tspan dy="-3.0" font-size="11.1"> (-)</tspan></text>
<text x="493.50" y="8.10" font-size="12" text-anchor="start" fill="#1a1a1a" >c</text>
<path d="M515.69 222.60L533.58 221.90M533.58 221.90L551.47 220.60M551.47 220.60L569.36 219.00M569.36 219.00L587.25 215.00M587.25 215.00L605.14 210.10M605.14 210.10L640.92 198.80M640.92 198.80L676.70 182.30" stroke="#ffc000" stroke-width="1.2" fill="none" stroke-linejoin="round"/>
<polygon points="515.69,220.19 517.87,224.75 513.51,224.75" fill="#ffc000"/>
<polygon points="533.58,219.50 535.76,224.05 531.40,224.05" fill="#ffc000"/>
<polygon points="551.47,218.19 553.65,222.75 549.29,222.75" fill="#ffc000"/>
<polygon points="569.36,216.59 571.54,221.15 567.18,221.15" fill="#ffc000"/>
<polygon points="587.25,212.59 589.43,217.15 585.07,217.15" fill="#ffc000"/>
<polygon points="605.14,207.69 607.32,212.25 602.96,212.25" fill="#ffc000"/>
<polygon points="640.92,196.40 643.10,200.95 638.74,200.95" fill="#ffc000"/>
<polygon points="676.70,179.90 678.88,184.45 674.52,184.45" fill="#ffc000"/>
<path d="M515.69 222.50L533.58 221.60M533.58 221.60L551.47 220.00M551.47 220.00L569.36 217.70M569.36 217.70L587.25 213.00M587.25 213.00L605.14 205.90M605.14 205.90L640.92 184.20M640.92 184.20L676.70 150.20" stroke="#f8696b" stroke-width="1.2" fill="none" stroke-linejoin="round"/>
<polygon points="518.03,222.50 513.70,220.16 513.70,224.84" fill="#f8696b"/>
<polygon points="535.92,221.60 531.59,219.26 531.59,223.94" fill="#f8696b"/>
<polygon points="553.81,220.00 549.48,217.66 549.48,222.34" fill="#f8696b"/>
<polygon points="571.70,217.70 567.37,215.36 567.37,220.04" fill="#f8696b"/>
<polygon points="589.59,213.00 585.26,210.66 585.26,215.34" fill="#f8696b"/>
<polygon points="607.48,205.90 603.15,203.56 603.15,208.24" fill="#f8696b"/>
<polygon points="643.26,184.20 638.93,181.86 638.93,186.54" fill="#f8696b"/>
<polygon points="679.04,150.20 674.71,147.86 674.71,152.54" fill="#f8696b"/>
<path d="M515.69 222.00L533.58 220.20M533.58 220.20L551.47 216.70M551.47 216.70L569.36 211.60M569.36 211.60L587.25 204.50M587.25 204.50L605.14 195.30M605.14 195.30L640.92 169.00M640.92 169.00L676.70 131.30" stroke="#3dba68" stroke-width="1.2" fill="none" stroke-linejoin="round"/>
<polygon points="515.69,219.40 517.84,222.00 515.69,224.60 513.55,222.00" fill="#3dba68"/>
<polygon points="533.58,217.60 535.73,220.20 533.58,222.80 531.44,220.20" fill="#3dba68"/>
<polygon points="551.47,214.10 553.62,216.70 551.47,219.30 549.33,216.70" fill="#3dba68"/>
<polygon points="569.36,209.00 571.50,211.60 569.36,214.20 567.22,211.60" fill="#3dba68"/>
<polygon points="587.25,201.90 589.39,204.50 587.25,207.10 585.11,204.50" fill="#3dba68"/>
<polygon points="605.14,192.70 607.28,195.30 605.14,197.90 603.00,195.30" fill="#3dba68"/>
<polygon points="640.92,166.40 643.07,169.00 640.92,171.60 638.78,169.00" fill="#3dba68"/>
<polygon points="676.70,128.70 678.85,131.30 676.70,133.90 674.56,131.30" fill="#3dba68"/>
<path d="M515.69 222.20L533.58 220.50M533.58 220.50L551.47 217.50M551.47 217.50L569.36 211.80M569.36 211.80L587.25 204.30M587.25 204.30L605.14 194.00M605.14 194.00L640.92 162.90M640.92 162.90L676.70 117.00" stroke="#999999" stroke-width="1.2" fill="none" stroke-linejoin="round"/>
<polygon points="513.35,222.20 517.68,219.86 517.68,224.54" fill="#999999"/>
<polygon points="531.24,220.50 535.57,218.16 535.57,222.84" fill="#999999"/>
<polygon points="549.13,217.50 553.46,215.16 553.46,219.84" fill="#999999"/>
<polygon points="567.02,211.80 571.35,209.46 571.35,214.14" fill="#999999"/>
<polygon points="584.91,204.30 589.24,201.96 589.24,206.64" fill="#999999"/>
<polygon points="602.80,194.00 607.13,191.66 607.13,196.34" fill="#999999"/>
<polygon points="638.58,162.90 642.91,160.56 642.91,165.24" fill="#999999"/>
<polygon points="674.36,117.00 678.69,114.66 678.69,119.34" fill="#999999"/>
<clipPath id="cc"><rect x="498" y="0.00" width="187" height="25.90"/><rect x="498" y="29.50" width="187" height="11.20"/><rect x="498" y="44.70" width="187" height="7.80"/><rect x="498" y="57.00" width="187" height="6.40"/><rect x="498" y="67.00" width="187" height="8.80"/><rect x="498" y="79.40" width="187" height="5.80"/><rect x="498" y="89.20" width="187" height="13.70"/><rect x="498" y="107.40" width="187" height="146.60"/></clipPath>
<g clip-path="url(#cc)">
<path d="M515.69 221.40L533.58 215.20M533.58 215.20L551.47 203.40M551.47 203.40L569.36 184.60M569.36 184.60L587.25 156.50M587.25 156.50L605.14 118.30M605.14 118.30L640.92 94.80M640.92 94.80L676.70 81.80" stroke="#2f62a0" stroke-width="1.2" fill="none" stroke-linejoin="round"/>
<circle cx="515.69" cy="221.40" r="1.92" fill="#2f62a0"/>
<circle cx="533.58" cy="215.20" r="1.92" fill="#2f62a0"/>
<circle cx="551.47" cy="203.40" r="1.92" fill="#2f62a0"/>
<circle cx="569.36" cy="184.60" r="1.92" fill="#2f62a0"/>
<circle cx="587.25" cy="156.50" r="1.92" fill="#2f62a0"/>
<circle cx="605.14" cy="118.30" r="1.92" fill="#2f62a0"/>
<circle cx="640.92" cy="94.80" r="1.92" fill="#2f62a0"/>
<circle cx="676.70" cy="81.80" r="1.92" fill="#2f62a0"/>
<path d="M515.69 196.00L533.58 102.10M533.58 102.10L551.47 70.80M551.47 70.80L569.36 59.40M569.36 59.40L587.25 48.80M587.25 48.80L605.14 32.80M605.14 32.80L640.92 25.20M640.92 25.20L676.70 16.60" stroke="#ee1c1c" stroke-width="1.2" fill="none" stroke-linejoin="round"/>
<rect x="514.07" y="194.38" width="3.25" height="3.25" fill="#ee1c1c"/>
<rect x="531.96" y="100.47" width="3.25" height="3.25" fill="#ee1c1c"/>
<rect x="549.85" y="69.17" width="3.25" height="3.25" fill="#ee1c1c"/>
<rect x="567.74" y="57.77" width="3.25" height="3.25" fill="#ee1c1c"/>
<rect x="585.62" y="47.17" width="3.25" height="3.25" fill="#ee1c1c"/>
<rect x="603.51" y="31.17" width="3.25" height="3.25" fill="#ee1c1c"/>
<rect x="639.30" y="23.57" width="3.25" height="3.25" fill="#ee1c1c"/>
<rect x="675.08" y="14.98" width="3.25" height="3.25" fill="#ee1c1c"/>
</g>
<path d="M515.69 222.80L533.58 222.80M533.58 222.80L551.47 222.80M551.47 222.80L569.36 222.80M569.36 222.80L587.25 222.80M587.25 222.80L605.14 222.80M605.14 222.80L640.92 222.80M640.92 222.80L676.70 222.80" stroke="#c8661c" stroke-width="1.2" fill="none" stroke-linejoin="round"/>
<polygon points="515.69,220.33 516.39,221.84 518.04,222.04 516.82,223.17 517.14,224.80 515.69,223.99 514.24,224.80 514.56,223.17 513.34,222.04 514.99,221.84" fill="#c8661c"/>
<polygon points="533.58,220.33 534.28,221.84 535.93,222.04 534.71,223.17 535.03,224.80 533.58,223.99 532.13,224.80 532.45,223.17 531.23,222.04 532.88,221.84" fill="#c8661c"/>
<polygon points="551.47,220.33 552.17,221.84 553.82,222.04 552.60,223.17 552.92,224.80 551.47,223.99 550.02,224.80 550.34,223.17 549.12,222.04 550.77,221.84" fill="#c8661c"/>
<polygon points="569.36,220.33 570.06,221.84 571.71,222.04 570.49,223.17 570.81,224.80 569.36,223.99 567.91,224.80 568.23,223.17 567.01,222.04 568.66,221.84" fill="#c8661c"/>
<polygon points="587.25,220.33 587.95,221.84 589.60,222.04 588.38,223.17 588.70,224.80 587.25,223.99 585.80,224.80 586.12,223.17 584.90,222.04 586.55,221.84" fill="#c8661c"/>
<polygon points="605.14,220.33 605.84,221.84 607.49,222.04 606.27,223.17 606.59,224.80 605.14,223.99 603.69,224.80 604.01,223.17 602.79,222.04 604.44,221.84" fill="#c8661c"/>
<polygon points="640.92,220.33 641.62,221.84 643.27,222.04 642.05,223.17 642.37,224.80 640.92,223.99 639.47,224.80 639.79,223.17 638.57,222.04 640.22,221.84" fill="#c8661c"/>
<polygon points="676.70,220.33 677.40,221.84 679.05,222.04 677.83,223.17 678.15,224.80 676.70,223.99 675.25,224.80 675.57,223.17 674.35,222.04 676.00,221.84" fill="#c8661c"/>
<rect x="502.40" y="6.40" width="119.10" height="19.80" fill="#fff" stroke="#555" stroke-width="1.0" rx="0.8"/>
<line x1="503.20" y1="11.20" x2="519.60" y2="11.20" stroke="#ee1c1c" stroke-width="1.1" />
<rect x="509.96" y="9.76" width="2.88" height="2.88" fill="#ee1c1c"/>
<line x1="503.20" y1="19.80" x2="519.60" y2="19.80" stroke="#2f62a0" stroke-width="1.1" />
<circle cx="511.40" cy="19.80" r="1.55" fill="#2f62a0"/>
<text x="521.20" y="13.60" font-size="7.2" fill="#2a2a2a" textLength="41.70" lengthAdjust="spacingAndGlyphs">Perfect match</text>
<text x="521.20" y="21.80" font-size="7.2" fill="#2a2a2a" textLength="98.40" lengthAdjust="spacingAndGlyphs">(W/L)<tspan font-size="4.46" dy="1.4">p</tspan><tspan dy="-1.4">/(W/L)</tspan><tspan font-size="4.46" dy="1.4">n</tspan><tspan dy="-1.4">=10/20, V</tspan><tspan font-size="4.46" dy="1.4">th,p</tspan><tspan dy="-1.4">= 1.3V</tspan></text>
<rect x="535.20" y="106.60" width="46.70" height="50.30" fill="#fff" stroke="#7a7a7a" stroke-width="0.8" rx="0.8"/>
<text x="536.20" y="113.40" font-size="6.3" fill="#2a2a2a" textLength="41.90" lengthAdjust="spacingAndGlyphs">(W/L)<tspan font-size="3.91" dy="1.4">p</tspan><tspan dy="-1.4">/(W/L)</tspan><tspan font-size="3.91" dy="1.4">n</tspan><tspan dy="-1.4">=</tspan></text>
<line x1="535.60" y1="120.80" x2="550.60" y2="120.80" stroke="#ffc000" stroke-width="1.1" />
<polygon points="543.10,118.77 544.95,122.61 541.25,122.61" fill="#ffc000"/>
<text x="551.50" y="123.07" font-size="6.3" fill="#2a2a2a" textLength="16.50" lengthAdjust="spacingAndGlyphs">0.5/20</text>
<line x1="535.60" y1="128.80" x2="550.60" y2="128.80" stroke="#3dba68" stroke-width="1.1" />
<polygon points="543.10,126.60 544.92,128.80 543.10,131.00 541.28,128.80" fill="#3dba68"/>
<text x="551.50" y="131.07" font-size="6.3" fill="#2a2a2a" textLength="12.00" lengthAdjust="spacingAndGlyphs">5/20</text>
<line x1="535.60" y1="137.00" x2="550.60" y2="137.00" stroke="#999999" stroke-width="1.1" />
<polygon points="541.12,137.00 544.78,135.02 544.78,138.98" fill="#999999"/>
<text x="551.50" y="139.27" font-size="6.3" fill="#2a2a2a" textLength="14.60" lengthAdjust="spacingAndGlyphs">20/20</text>
<line x1="535.60" y1="144.90" x2="550.60" y2="144.90" stroke="#f8696b" stroke-width="1.1" />
<polygon points="545.08,144.90 541.42,142.92 541.42,146.88" fill="#f8696b"/>
<text x="551.50" y="147.17" font-size="6.3" fill="#2a2a2a" textLength="19.60" lengthAdjust="spacingAndGlyphs">100/20</text>
<line x1="535.60" y1="152.60" x2="550.60" y2="152.60" stroke="#c8661c" stroke-width="1.1" />
<polygon points="543.10,150.51 543.69,151.79 545.09,151.95 544.05,152.91 544.33,154.29 543.10,153.60 541.87,154.29 542.15,152.91 541.11,151.95 542.51,151.79" fill="#c8661c"/>
<text x="551.50" y="154.87" font-size="6.3" fill="#2a2a2a" textLength="30.30" lengthAdjust="spacingAndGlyphs">6M&#937; Load</text>
</svg>
</body></html>
